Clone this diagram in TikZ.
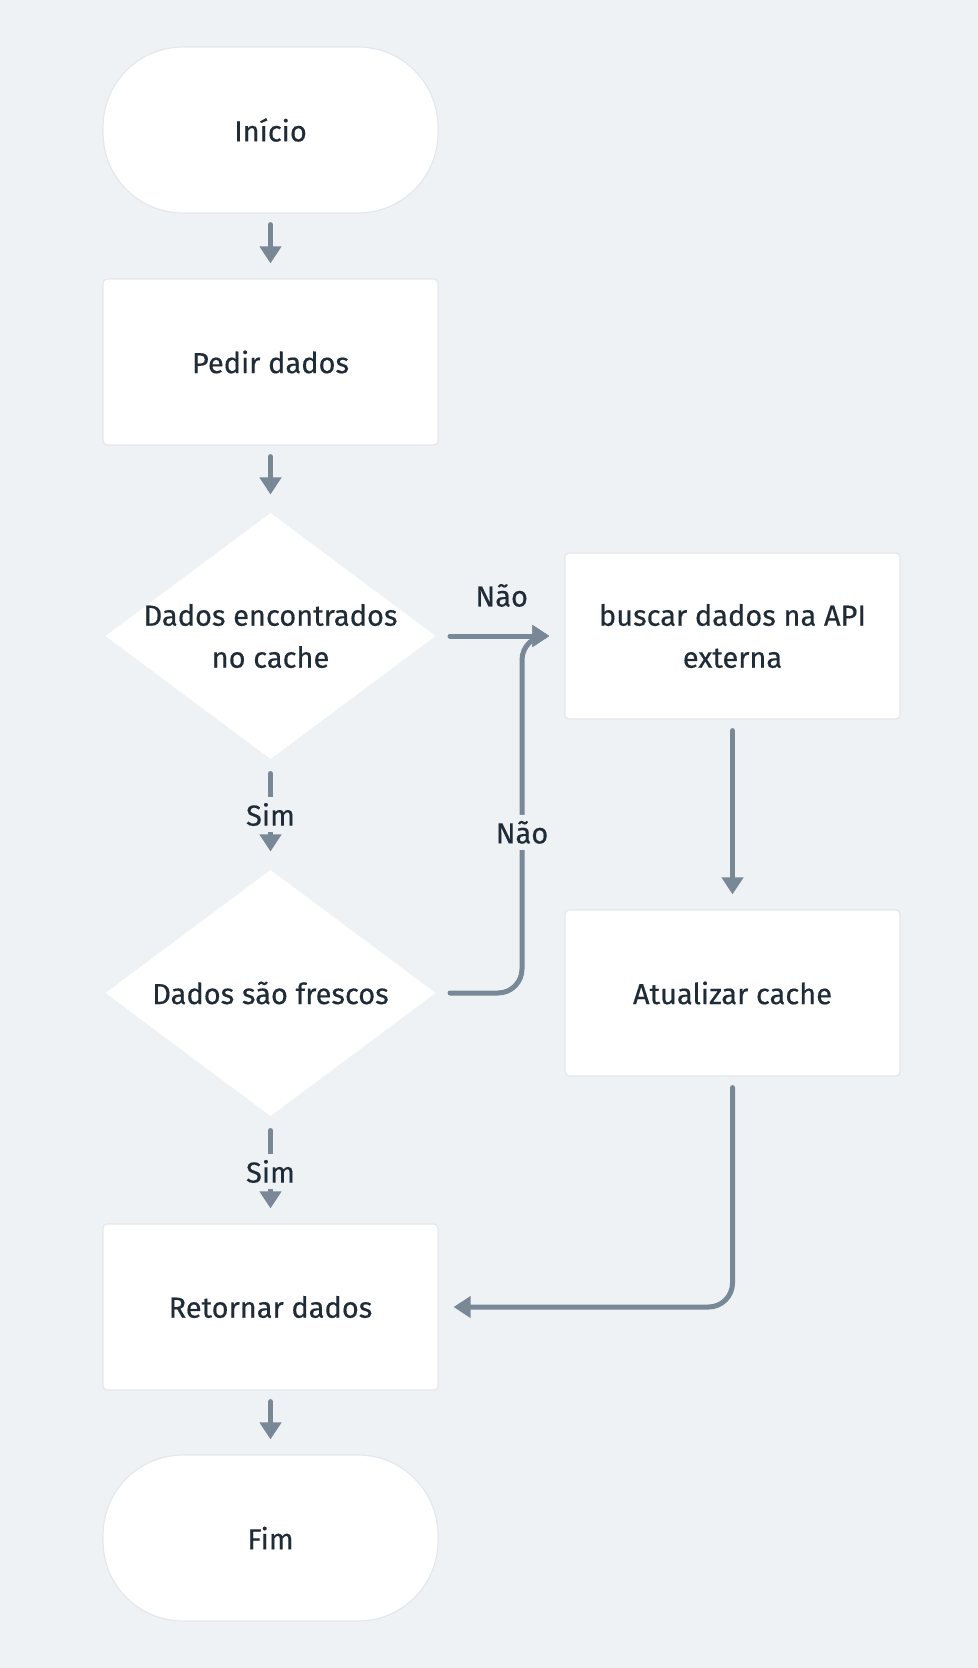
\documentclass[tikz,border=0pt]{standalone}
\usepackage{fontspec}
\setmainfont{Fira Sans}[UprightFeatures={FakeBold=0.4}]
\usepackage{tikz}
\usetikzlibrary{arrows.meta}
\usetikzlibrary{shapes.geometric}
\usetikzlibrary{positioning}
\definecolor{canvas}{HTML}{EFF2F5}
\definecolor{wire}{HTML}{798897}
\definecolor{ink}{HTML}{1F2B37}
\definecolor{rim}{HTML}{E3E8ED}
\tikzset{
  terminal/.style={rectangle, rounded corners=40pt, fill=white, draw=rim,
    line width=0.6pt, minimum width=167.5pt, minimum height=83pt},
  process/.style={rectangle, rounded corners=2pt, fill=white, draw=rim,
    line width=0.6pt, minimum width=167.5pt, minimum height=83pt, align=center},
  decision/.style={diamond, shape aspect=1.34, fill=white, inner xsep=-14pt,
    inner ysep=-6pt, minimum width=166pt, minimum height=124pt, align=center},
  choice/.style={fill=canvas, inner sep=3pt, auto=false}}

\begin{document}
\begin{tikzpicture}[->,>={Triangle[width=10.5pt,length=8.5pt]},
      shorten >=7.5pt,
      shorten <=5.5pt,
      node distance=116pt,
      auto,
      on grid,
      line width=2.5pt,
      line cap=round,
      draw=wire,
      text=ink,
      font=\fontsize{14.5pt}{21pt}\selectfont]

    \fill[canvas] (0,0) rectangle (489pt,-834pt);
    \useasboundingbox (0,0) rectangle (489pt,-834pt);

    \node[terminal]
      (Inicio) at (135.25pt,-65pt) {Início};
    \node[process]
      (Pedir) [below=116pt of Inicio] {Pedir dados};
    \node[decision]
      (Encontrados) [below=137pt of Pedir] {Dados encontrados\\no cache};
    \node[process]
      (Buscar) [right=231pt of Encontrados] {buscar dados na API\\externa};
    \node[decision]
      (Frescos) [below=178.5pt of Encontrados] {Dados são frescos};
    \node[process]
      (Atualizar) [below=178.5pt of Buscar] {Atualizar cache};
    \node[process]
      (Retornar) [below=157pt of Frescos] {Retornar dados};
    \node[terminal]
      (Fim) [below=115.5pt of Retornar] {Fim};
    \node[coordinate]
      (Juncao) [right=125.75pt of Encontrados] {};

    \path[->]
      (Inicio) edge (Pedir)
      (Pedir) edge (Encontrados)
      (Encontrados) edge node[above=10pt] {Não} (Buscar)
      (Encontrados) edge node[choice] {Sim} (Frescos)
      (Frescos) edge node[choice] {Sim} (Retornar)
      (Buscar) edge (Atualizar)
      (Retornar) edge (Fim);

    \draw[->, rounded corners=12pt]
      (Frescos) -- (Frescos -| Juncao)
        -- node[choice, pos=0.45] {Não} (Juncao) -- (Buscar);
    \draw[->, rounded corners=12pt]
      (Atualizar) |- (Retornar);

  \end{tikzpicture}
\end{document}
